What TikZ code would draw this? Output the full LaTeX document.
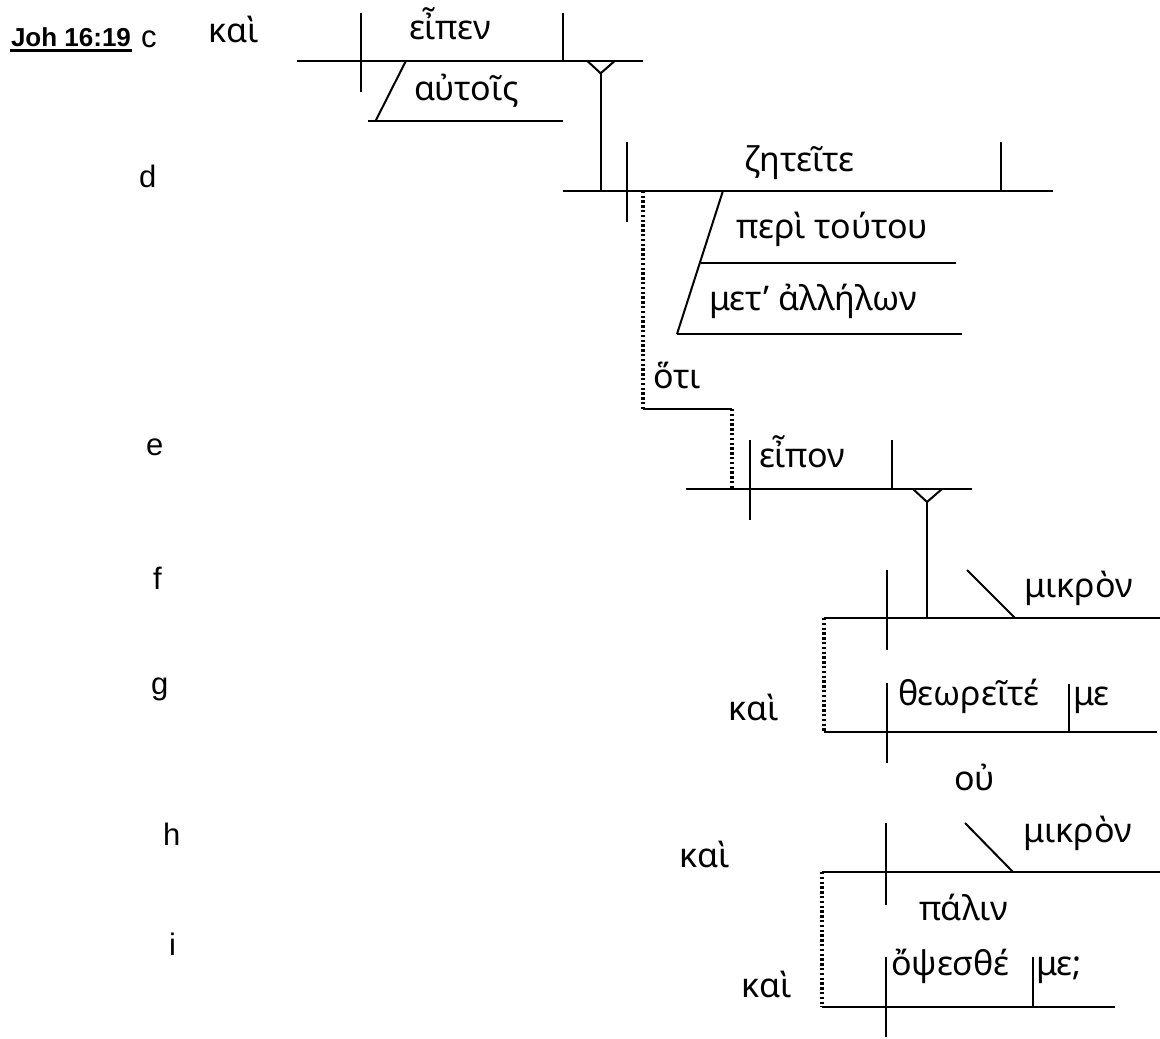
\documentclass[tikz,border=0pt]{standalone}
\usepackage{fontspec}
\setmainfont{Liberation Sans}
\newfontfamily\gkfont{Noto Sans}
\tikzset{
  gk/.style={font=\gkfont\fontsize{17}{20}\selectfont, anchor=base west, inner sep=0pt},
  lbl/.style={font=\fontsize{15.5}{18}\selectfont, anchor=base west, inner sep=0pt},
  dotline/.style={line width=1.7pt, dash pattern=on 1.2pt off 1.2pt}
}
\begin{document}
\begin{tikzpicture}[x=0.5pt,y=-0.5pt,line width=1pt]
\useasboundingbox (0,0) rectangle (1160,1038);
% verse and clause letters
\node[lbl,font=\bfseries\fontsize{13}{15}\selectfont] (ref) at (10,47) {Joh 16:19};
\draw[line width=1.5pt] ([yshift=-2pt]ref.base west)--([yshift=-2pt]ref.base east);
\node[lbl] (lc) at (140,48) {c};
\node[lbl] (ld) at (138,187) {d};
\node[lbl] (le) at (145,455) {e};
\node[lbl] (lf) at (152,589) {f};
\node[lbl] (lg) at (150,694) {g};
\node[lbl] (lh) at (162,845) {h};
\node[lbl] (li) at (168,955) {i};
% c
\node[gk] (kai1) at (207,43) {καὶ};
\draw (297,60.7)--(643,60.7);
\draw (360.7,12.7)--(360.7,91.7);
\draw (562.7,12.7)--(562.7,60.7);
\node[gk] (eipen) at (408,40) {εἶπεν};
\draw (406,60.7)--(375.7,120.7);
\draw (368,120.7)--(563,120.7);
\node[gk] (autois) at (413,101) {αὐτοῖς};
\draw (587,60.7)--(600.7,73.3)--(615,60.7);
\draw (600.7,73.3)--(600.7,190.7);
% d
\draw (562.7,190.7)--(1053,190.7);
\draw (626.7,142)--(626.7,221.7);
\draw (1001,142)--(1001,190.7);
\node[gk] (zhteite) at (743,171) {ζητεῖτε};
\draw (723,190.7)--(677,334);
\draw (701,262.7)--(956,262.7);
\draw (677,334)--(962,334);
\node[gk] (peri) at (735,238) {περὶ τούτου};
\node[gk] (met) at (708,310) {μετ’ ἀλλήλων};
\draw[dotline] (643,190.7)--(643,409);
\draw (643,409)--(732,409);
\draw[dotline] (732,409)--(732,489);
\node[gk] (hoti) at (652,388) {ὅτι};
% e
\draw (686,489)--(972,489);
\draw (750,440)--(750,520);
\draw (891.7,440)--(891.7,489);
\node[gk] (eipon) at (758,467) {εἶπον};
\draw (913,489)--(927,502)--(942,489);
\draw (927,502)--(927,618);
% f, g
\draw (824,618)--(1160,618);
\draw (887,570)--(887,650);
\draw (967,570)--(1015,618);
\node[gk] (mikron1) at (1023,597) {μικρὸν};
\draw[dotline] (824,618)--(824,732);
\draw (824,732)--(1157,732);
\draw (887,683)--(887,763);
\draw (1069,684)--(1069,732);
\node[gk] (theoreite) at (897,705) {θεωρεῖτέ};
\node[gk] (me1) at (1072,705) {με};
\node[gk] (kai2) at (727,720) {καὶ};
\node[gk] (ou) at (953,790) {οὐ};
% h, i
\node[gk] (kai3) at (678,867) {καὶ};
\draw (822,872)--(1160,872);
\draw (886,823)--(886,905);
\draw (965,823)--(1013,872);
\node[gk] (mikron2) at (1022,842) {μικρὸν};
\node[gk] (palin) at (918,920) {πάλιν};
\draw[dotline] (822,872)--(822,1007);
\draw (822,1007)--(1115,1007);
\draw (886,957)--(886,1037);
\draw (1033,957)--(1033,1007);
\node[gk] (opsesthe) at (890,975) {ὄψεσθέ};
\node[gk] (me2) at (1035,975) {με;};
\node[gk] (kai4) at (740,997) {καὶ};
\end{tikzpicture}
\end{document}
